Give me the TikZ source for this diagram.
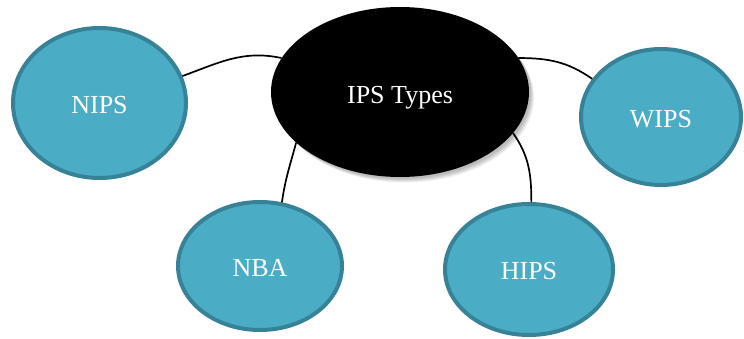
\documentclass[tikz,border=0pt]{standalone}
\usepackage{fontspec}
\setmainfont{Liberation Serif}
\usetikzlibrary{shapes.geometric}
\definecolor{aqua}{RGB}{75,172,198}
\definecolor{aquaedge}{RGB}{55,130,150}
\tikzset{
  leaf/.style={ellipse, draw=aquaedge, fill=aqua, line width=4pt, text=white, inner sep=0pt,
    text height=20pt, text depth=0pt, font=\fontsize{26}{30}\selectfont},
  hub/.style={ellipse, fill=black, text=white, inner sep=0pt, minimum width=258pt, minimum height=170pt,
    text height=23pt, text depth=0pt, font=\fontsize{26}{30}\selectfont},
  link/.style={line width=1.7pt, black},
}
\begin{document}
\begin{tikzpicture}[x=1pt,y=1pt]
\useasboundingbox (0,0) rectangle (744,338);
% soft shadow of the hub
\foreach \s in {1,2,3,4,5}{
  \fill[black, opacity=0.06] (400+1+0.8*\s,246-1-0.9*\s) ellipse [x radius=129, y radius=85];
}
\node[hub] (ips) at (400,246) {IPS Types};
\node[leaf, minimum width=173pt, minimum height=150pt] (nips) at (99.5,235) {NIPS};
\node[leaf, minimum width=164pt, minimum height=128pt] (nba) at (260,72) {NBA};
\node[leaf, minimum width=160pt, minimum height=136pt] (wips) at (661,221) {WIPS};
\node[leaf, minimum width=168pt, minimum height=131pt] (hips) at (529,68.5) {HIPS};
\draw[link] (nips.18) to[out=20, in=168] (ips.164);
\draw[link] (nba.71) to[out=82, in=255] (ips.206);
\draw[link] (ips.16) to[out=0, in=145] (wips.151);
\draw[link] (ips.340) to[out=-55, in=90] (hips.88);
\end{tikzpicture}
\end{document}
